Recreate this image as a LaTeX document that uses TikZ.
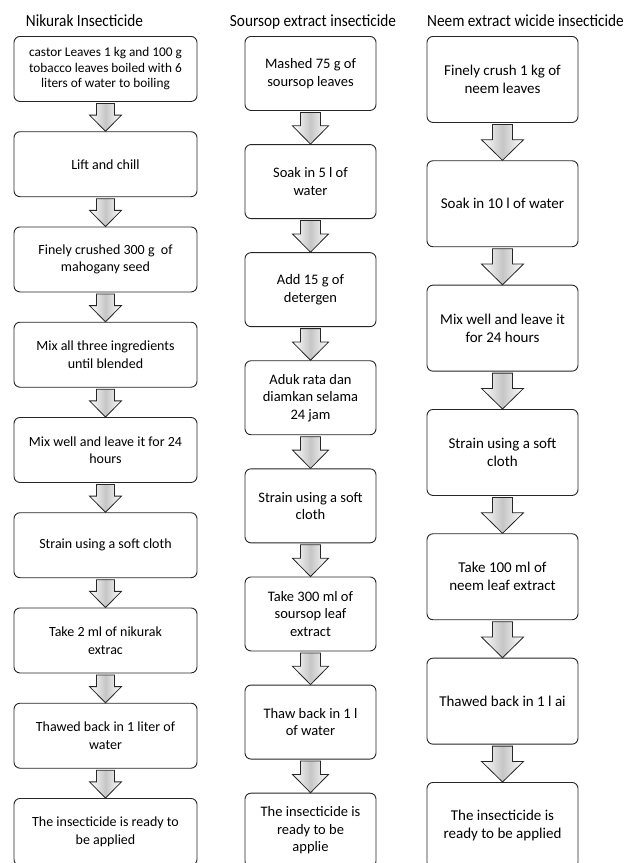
\documentclass[tikz,border=0pt]{standalone}
\usepackage{fontspec}
\setmainfont{Carlito}
\newfontfamily\titlefont[FakeStretch=0.9]{Carlito}
\usetikzlibrary{calc}

\tikzset{
  stepbox/.style={draw=black!85, line width=0.9pt, rounded corners=6pt, align=center,
    anchor=north, inner sep=0pt, font=\fontsize{15}{18}\selectfont},
  boxA/.style={stepbox, minimum width=183pt, minimum height=65pt, font=\fontsize{14}{17.5}\selectfont},
  boxB/.style={stepbox, minimum width=131pt, minimum height=74pt, font=\fontsize{14.5}{17.5}\selectfont},
  boxC/.style={stepbox, minimum width=151pt, minimum height=86pt},
  coltitle/.style={font=\titlefont\fontsize{17}{20}\selectfont, anchor=base, inner sep=0pt},
  flowarrow/.style={draw=black!85, line width=0.8pt, left color=white, right color=white, middle color=gray!45}
}
% #1 from node, #2 to node, #3 shaft half width, #4 head half width
\newcommand\flowarr[4]{%
  \path[flowarrow] let \p1=(#1.south), \p2=(#2.north), \n1={0.55*(\y1-\y2)} in
    (\x1-#3pt,\y1-1.5pt) -- (\x1+#3pt,\y1-1.5pt) -- (\x1+#3pt,{\y2+\n1*1pt})
    -- (\x1+#4pt,{\y2+\n1*1pt}) -- (\x2,\y2) -- (\x1-#4pt,{\y2+\n1*1pt})
    -- (\x1-#3pt,{\y2+\n1*1pt}) -- cycle;
}

\begin{document}
\begin{tikzpicture}[x=1pt,y=-1pt]
\fill[white] (0,0) rectangle (627,863);
\useasboundingbox (0,0) rectangle (627,863);

% titles
\node[coltitle] (t1) at (84.5,26) {Nikurak Insecticide};
\node[coltitle] (t2) at (313,26) {Soursop extract insecticide};
\node[coltitle] (t3) at (525.5,26) {Neem extract wicide insecticide};

% column 1
\node[boxA, font=\fontsize{13.3}{15.5}\selectfont] (a1) at (105.5,36) {castor Leaves 1 kg and 100 g\\tobacco leaves boiled with 6\\liters of water to boiling};
\node[boxA] (a2) at (105.5,131.25) {Lift and chill};
\node[boxA] (a3) at (105.5,226.5) {Finely crushed 300 g\ \ of\\mahogany seed};
\node[boxA] (a4) at (105.5,321.75) {Mix all three ingredients\\until blended};
\node[boxA] (a5) at (105.5,417) {Mix well and leave it for 24\\hours};
\node[boxA] (a6) at (105.5,512.25) {Strain using a soft cloth};
\node[boxA] (a7) at (105.5,607.5) {Take 2 ml of nikurak\\extrac};
\node[boxA] (a8) at (105.5,702.75) {Thawed back in 1 liter of\\water};
\node[boxA, minimum height=67pt] (a9) at (105.5,798) {The insecticide is ready to\\be applied};

% column 2
\node[boxB] (b1) at (310.5,36) {Mashed 75 g of\\soursop leaves};
\node[boxB] (b2) at (310.5,144.1) {Soak in 5 l of\\water};
\node[boxB] (b3) at (310.5,252.2) {Add 15 g of\\detergen};
\node[boxB] (b4) at (310.5,360.3) {Aduk rata dan\\diamkan selama\\24 jam};
\node[boxB] (b5) at (310.5,468.4) {Strain using a soft\\cloth};
\node[boxB] (b6) at (310.5,576.5) {Take 300 ml of\\soursop leaf\\extract};
\node[boxB] (b7) at (310.5,684.6) {Thaw back in 1 l\\of water};
\node[boxB] (b8) at (310.5,792.7) {The insecticide is\\ready to be\\applie};

% column 3
\node[boxC] (c1) at (502.5,36) {Finely crush 1 kg of\\neem leaves};
\node[boxC] (c2) at (502.5,160.3) {Soak in 10 l of water};
\node[boxC] (c3) at (502.5,284.7) {Mix well and leave it\\for 24 hours};
\node[boxC] (c4) at (502.5,409) {Strain using a soft\\cloth};
\node[boxC] (c5) at (502.5,533.3) {Take 100 ml of\\neem leaf extract};
\node[boxC] (c6) at (502.5,657.7) {Thawed back in 1 l ai};
\node[boxC] (c7) at (502.5,782) {The insecticide is\\ready to be applied};

% arrows
\flowarr{a1}{a2}{9}{16}
\flowarr{a2}{a3}{9}{16}
\flowarr{a3}{a4}{9}{16}
\flowarr{a4}{a5}{9}{16}
\flowarr{a5}{a6}{9}{16}
\flowarr{a6}{a7}{9}{16}
\flowarr{a7}{a8}{9}{16}
\flowarr{a8}{a9}{9}{16}

\flowarr{b1}{b2}{10}{18}
\flowarr{b2}{b3}{10}{18}
\flowarr{b3}{b4}{10}{18}
\flowarr{b4}{b5}{10}{18}
\flowarr{b5}{b6}{10}{18}
\flowarr{b6}{b7}{10}{18}
\flowarr{b7}{b8}{10}{18}

\flowarr{c1}{c2}{10}{21}
\flowarr{c2}{c3}{10}{21}
\flowarr{c3}{c4}{10}{21}
\flowarr{c4}{c5}{10}{21}
\flowarr{c5}{c6}{10}{21}
\flowarr{c6}{c7}{10}{21}
\end{tikzpicture}
\end{document}
